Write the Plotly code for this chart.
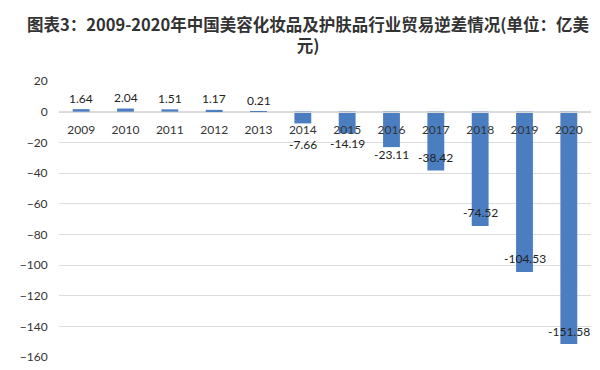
import plotly.graph_objects as go

years = ["2009", "2010", "2011", "2012", "2013", "2014", "2015", "2016", "2017", "2018", "2019", "2020"]
deficit = [1.64, 2.04, 1.51, 1.17, 0.21, -7.66, -14.19, -23.11, -38.42, -74.52, -104.53, -151.58]
value_labels = ["1.64", "2.04", "1.51", "1.17", "0.21", "-7.66", "-14.19", "-23.11", "-38.42", "-74.52", "-104.53", "-151.58"]
y_ticks = [20, 0, -20, -40, -60, -80, -100, -120, -140, -160]

# label pixel offsets from bar end (style only)
label_shift = [11, 11, 11, 11, 11, -21, -10, -7, 13, 13, 13, 13]

bar_color = "#4A7EC0"
font_family = "Lato, 'Open Sans', sans-serif"

xpos = list(range(len(years)))

fig = go.Figure()
fig.add_trace(go.Bar(
    x=xpos, y=deficit,
    marker=dict(color=bar_color, line=dict(width=0)),
    width=0.38,
    hovertext=years,
))

for xi, v, lab, s in zip(xpos, deficit, value_labels, label_shift):
    fig.add_annotation(
        x=xi, y=v, xref="x", yref="y", text=lab, showarrow=False,
        yshift=s, yanchor="middle", xanchor="center",
        font=dict(family=font_family, size=12, color="#222"),
    )

ymin, ymax = -160, 20
zero_pos = (0 - ymin) / (ymax - ymin)

fig.update_layout(
    width=600, height=370,
    margin=dict(l=48, r=17, t=73, b=21),
    paper_bgcolor="white", plot_bgcolor="white",
    showlegend=False,
    title=dict(
        text="<b>图表3：2009-2020年中国美容化妆品及护肤品行业贸易逆差情况(单位：亿美<br>元)</b>",
        x=0.5, xref="container", xanchor="center",
        y=0.938, yref="container", yanchor="middle",
        font=dict(family="'Noto Sans CJK SC', sans-serif", size=16.5, color="#333"),
    ),
    xaxis=dict(
        range=[-0.5, len(years) - 0.5],
        tickvals=xpos, ticktext=years,
        anchor="free", position=zero_pos,
        showline=True, linecolor="#d9d9d9", linewidth=1,
        showgrid=False, zeroline=False,
        ticks="outside", ticklen=7, tickcolor="rgba(0,0,0,0)",
        tickfont=dict(family=font_family, size=12, color="#333"),
    ),
    yaxis=dict(
        range=[ymin, ymax],
        tickvals=y_ticks,
        showgrid=True, gridcolor="#dcdcdc", gridwidth=1,
        zeroline=False, showline=False,
        ticks="outside", ticklen=8, tickcolor="rgba(0,0,0,0)",
        tickfont=dict(family=font_family, size=12, color="#333"),
    ),
)

fig.write_html("out.html")
